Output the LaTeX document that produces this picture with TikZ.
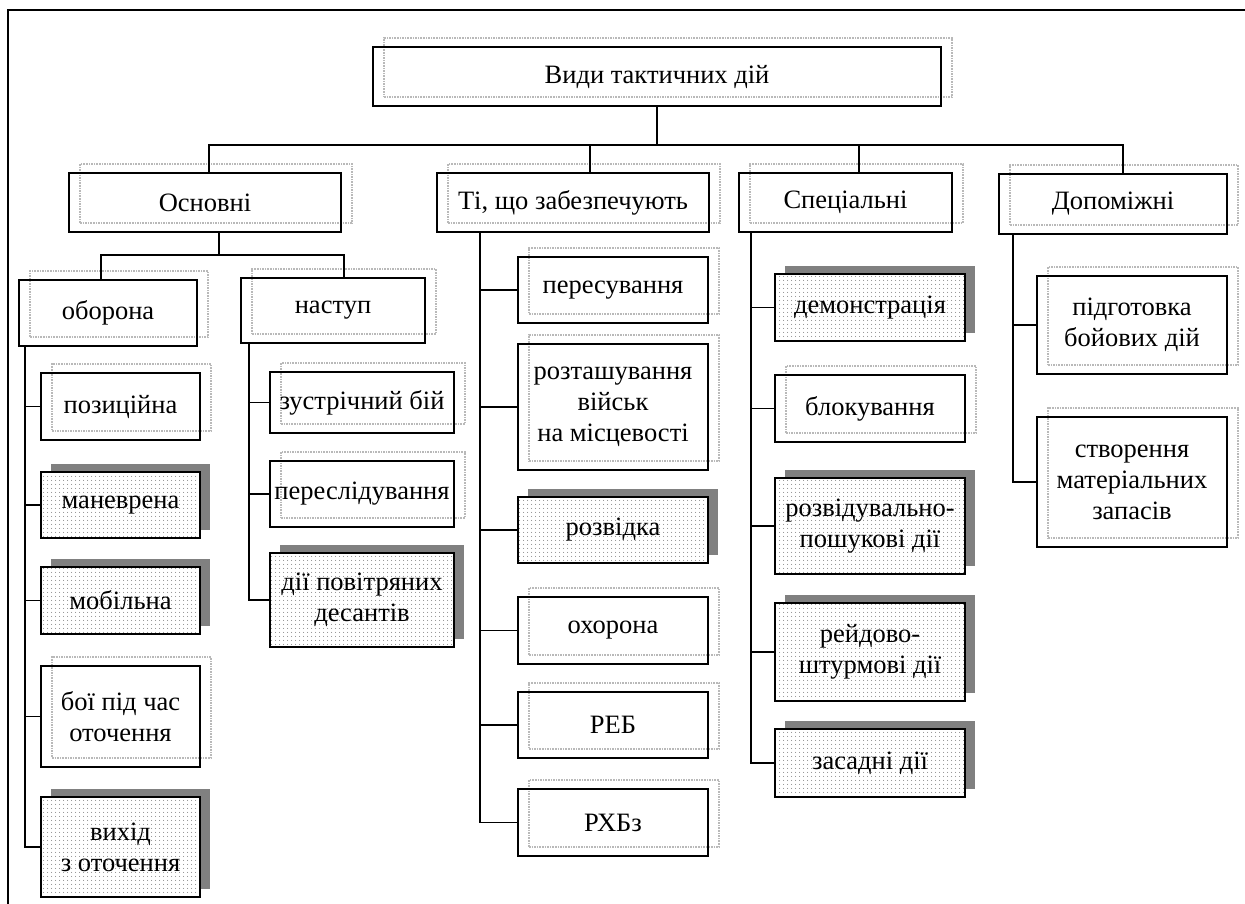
\documentclass[tikz,border=0pt]{standalone}
\usepackage{fontspec}
\setmainfont{Liberation Serif}
\usepackage{xcolor}
\definecolor{Ghost}{RGB}{185,185,185}
\definecolor{Shade}{RGB}{128,128,128}
\usepackage{tikz}
\usetikzlibrary{shadows}
\usetikzlibrary{patterns.meta}
\tikzstyle{Box}=[rectangle,draw=black,line width=1.8pt,inner sep=0pt,
align=center,font=\fontsize{26.5}{31}\selectfont]
\tikzstyle{GhostBox}=[Box,general shadow={draw=Ghost,line width=1.6pt,
densely dotted,shadow xshift=11pt,shadow yshift=9pt}]
\tikzstyle{DotBox}=[Box,drop shadow={fill=Shade,opacity=1,shadow xshift=10pt,
shadow yshift=8pt},preaction={fill=white},
pattern={Dots[distance=4pt,radius=.5pt]},pattern color=black!70]
\tikzstyle{Edge}=[draw=black,line width=1.5pt]
\tikzstyle{Frame}=[draw=black,line width=1.8pt]

\begin{document}
\begin{tikzpicture}[x=1pt,y=-1pt]
        \useasboundingbox(0,0)rectangle(1245,904);
        \draw[Frame](8,904)|-(1245,10);
        % top levels
        \node[GhostBox,minimum width=568pt,minimum height=59pt](root)at(657,76.5){Види тактичних дій};
        \node[GhostBox,minimum width=272pt,minimum height=59pt](osn)at(205,202.5){Основні};
        \node[GhostBox,minimum width=272pt,minimum height=59pt](ti)at(573,202.5){Ті, що забезпечують};
        \node[GhostBox,minimum width=213pt,minimum height=59pt](spec)at(845.5,202.5){Спеціальні};
        \node[GhostBox,minimum width=228pt,minimum height=60pt](dop)at(1113,204){Допоміжні};
        \node[GhostBox,minimum width=178pt,minimum height=66pt](obor)at(108,313){оборона};
        \node[GhostBox,minimum width=184pt,minimum height=65pt](nast)at(333,310.5){наступ};
        % leaves
        \node[GhostBox,minimum width=159pt,minimum height=67pt](poz)at(120.5,406.5){позиційна};
        \node[DotBox,minimum width=159pt,minimum height=66pt](man)at(120.5,505){маневрена};
        \node[DotBox,minimum width=159pt,minimum height=67pt](mob)at(120.5,600.5){мобільна};
        \node[GhostBox,minimum width=159pt,minimum height=101pt](boi)at(120.5,716.5){бої під час\\оточення};
        \node[DotBox,minimum width=159pt,minimum height=100pt](vyh)at(120.5,847){вихід\\з оточення};
        \node[GhostBox,minimum width=184pt,minimum height=61pt](zus)at(362,402.5){зустрічний бій};
        \node[GhostBox,minimum width=184pt,minimum height=66pt](pers)at(362,494){переслідування};
        \node[DotBox,minimum width=184pt,minimum height=94pt](des)at(362,600){дії повітряних\\десантів};
        \node[GhostBox,minimum width=190pt,minimum height=66pt](peres)at(613,290){пересування};
        \node[GhostBox,minimum width=190pt,minimum height=126pt](roz)at(613,407){розташування\\військ\\на місцевості};
        \node[DotBox,minimum width=190pt,minimum height=66pt](rozv)at(613,530){розвідка};
        \node[GhostBox,minimum width=190pt,minimum height=67pt](ohor)at(613,630.5){охорона};
        \node[GhostBox,minimum width=190pt,minimum height=66pt](reb)at(613,725){РЕБ};
        \node[GhostBox,minimum width=190pt,minimum height=67pt](rhbz)at(613,822.5){РХБз};
        \node[DotBox,minimum width=190pt,minimum height=67pt](demo)at(870,307.5){демонстрація};
        \node[GhostBox,minimum width=190pt,minimum height=67pt](blok)at(870,408.5){блокування};
        \node[DotBox,minimum width=190pt,minimum height=96pt](rpd)at(870,526){розвідувально-\\пошукові дії};
        \node[DotBox,minimum width=190pt,minimum height=98pt](rsd)at(870,652){рейдово-\\штурмові дії};
        \node[DotBox,minimum width=190pt,minimum height=68pt](zas)at(870,763){засадні дії};
        \node[GhostBox,minimum width=190pt,minimum height=98pt](pidg)at(1132,325){підготовка\\бойових дій};
        \node[GhostBox,minimum width=190pt,minimum height=130pt](stv)at(1132,482){створення\\матеріальних\\запасів};
        % joints
        \coordinate(bus)at(657,145);
        \coordinate(bus2)at(219,255);
        \coordinate(tob)at(25,0);
        \coordinate(tnas)at(249,0);
        \coordinate(tti)at(480,0);
        \coordinate(tsp)at(751,0);
        \coordinate(tdop)at(1013,0);
        % edges
        \draw[Edge](root.south)--(bus);
        \draw[Edge]([xshift=4pt]osn.north)|-(bus)-|([xshift=10pt]dop.north);
        \draw[Edge]([xshift=17pt]ti.north)--([xshift=17pt]ti.north|-bus);
        \draw[Edge]([xshift=13.5pt]spec.north)--([xshift=13.5pt]spec.north|-bus);
        \draw[Edge]([xshift=14pt]osn.south)--(bus2);
        \draw[Edge]([xshift=-7pt]obor.north)|-(bus2)-|([xshift=11pt]nast.north);
        \draw[Edge](tob|-obor.south)|-(vyh.west);
        \draw[Edge](tob|-poz.west)--(poz.west);
        \draw[Edge](tob|-man.west)--(man.west);
        \draw[Edge](tob|-mob.west)--(mob.west);
        \draw[Edge](tob|-boi.west)--(boi.west);
        \draw[Edge](tnas|-nast.south)|-(des.west);
        \draw[Edge](tnas|-zus.west)--(zus.west);
        \draw[Edge](tnas|-pers.west)--(pers.west);
        \draw[Edge](tti|-ti.south)|-(rhbz.west);
        \draw[Edge](tti|-peres.west)--(peres.west);
        \draw[Edge](tti|-roz.west)--(roz.west);
        \draw[Edge](tti|-rozv.west)--(rozv.west);
        \draw[Edge](tti|-ohor.west)--(ohor.west);
        \draw[Edge](tti|-reb.west)--(reb.west);
        \draw[Edge](tsp|-spec.south)|-(zas.west);
        \draw[Edge](tsp|-demo.west)--(demo.west);
        \draw[Edge](tsp|-blok.west)--(blok.west);
        \draw[Edge](tsp|-rpd.west)--(rpd.west);
        \draw[Edge](tsp|-rsd.west)--(rsd.west);
        \draw[Edge](tdop|-dop.south)|-(stv.west);
        \draw[Edge](tdop|-pidg.west)--(pidg.west);
    \end{tikzpicture}
\end{document}
